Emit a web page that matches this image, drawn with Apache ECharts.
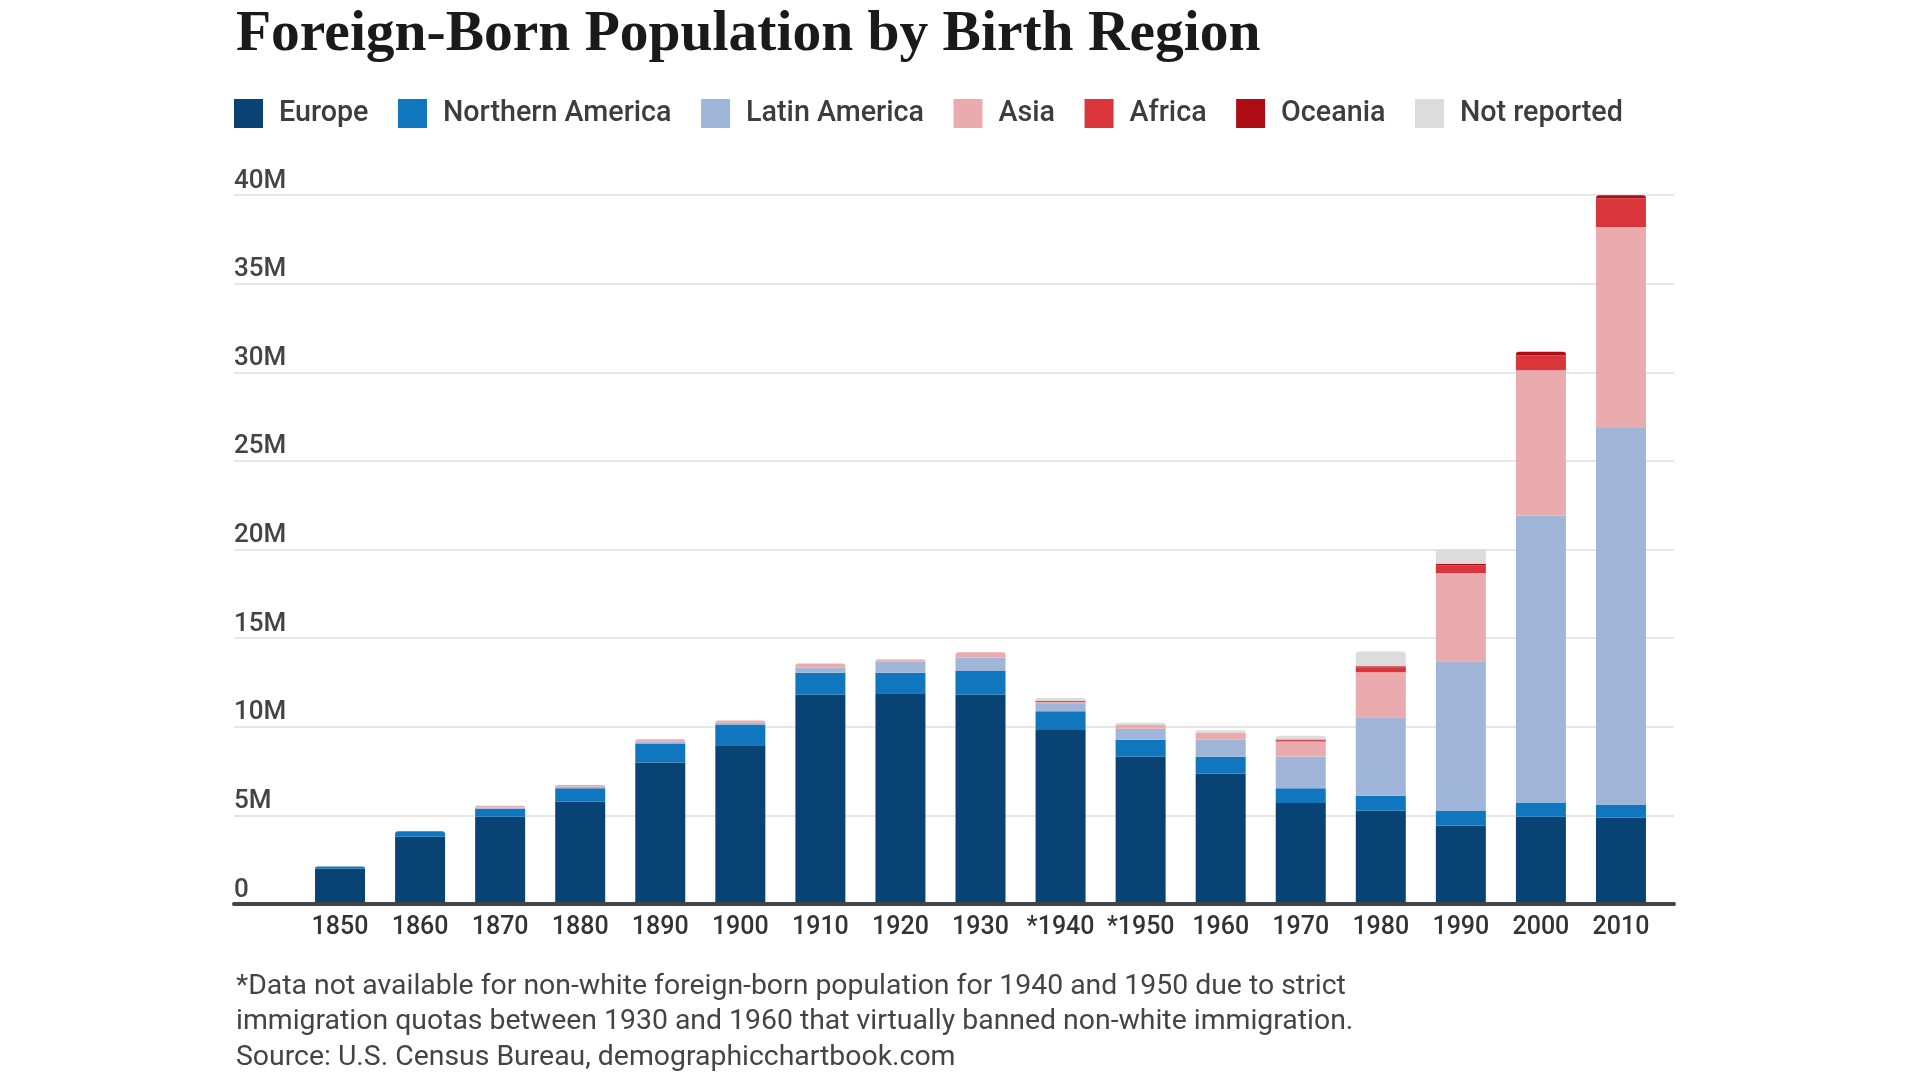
<!DOCTYPE html>
<html>
<head>
<meta charset="utf-8">
<title>Foreign-Born Population by Birth Region</title>
<script src="https://cdn.jsdelivr.net/npm/echarts@6/dist/echarts.min.js"></script>
<style>
  html, body { margin: 0; padding: 0; background: #fff; }
  #chart { width: 1920px; height: 1080px; }
</style>
</head>
<body>
<div id="chart"></div>
<script>
// values in millions
const categories = ['1850', '1860', '1870', '1880', '1890', '1900', '1910', '1920', '1930', '*1940', '*1950', '1960', '1970', '1980', '1990', '2000', '2010'];
const europe       = [2.00, 3.79, 4.92, 5.77, 7.98, 8.95, 11.80, 11.89, 11.80, 9.81, 8.31, 7.35, 5.70, 5.26, 4.43, 4.92, 4.87];
const northAmerica = [0.12, 0.31, 0.46, 0.76, 1.07, 1.17, 1.24, 1.15, 1.35, 1.06, 0.96, 0.96, 0.83, 0.85, 0.82, 0.80, 0.71];
const latinAmerica = [0, 0, 0.07, 0.09, 0.11, 0.10, 0.30, 0.64, 0.76, 0.41, 0.62, 0.96, 1.79, 4.42, 8.45, 16.18, 21.28];
const asia         = [0, 0, 0.10, 0.10, 0.13, 0.13, 0.23, 0.11, 0.30, 0.11, 0.23, 0.40, 0.85, 2.55, 4.98, 8.21, 11.34];
const africa       = [0, 0, 0, 0, 0, 0, 0, 0, 0, 0.04, 0, 0, 0.07, 0.28, 0.43, 0.85, 1.61];
const oceania      = [0, 0, 0, 0, 0, 0, 0, 0, 0, 0.04, 0, 0, 0.04, 0.06, 0.08, 0.19, 0.17];
const notReported  = [0, 0, 0, 0, 0, 0, 0, 0, 0, 0.15, 0.10, 0.13, 0.21, 0.83, 0.83, 0, 0];
const yTicks = [0, 5, 10, 15, 20, 25, 30, 35, 40];

const regions = [
  { name: 'Europe', data: europe, color: '#094374' },
  { name: 'Northern America', data: northAmerica, color: '#1076bd' },
  { name: 'Latin America', data: latinAmerica, color: '#9fb6d8' },
  { name: 'Asia', data: asia, color: '#eaabae' },
  { name: 'Africa', data: africa, color: '#d8363b' },
  { name: 'Oceania', data: oceania, color: '#ae0d16' },
  { name: 'Not reported', data: notReported, color: '#dcdcdc' }
];

// the top segment of each column gets slightly rounded corners
const topIndex = categories.map((c, i) => {
  let top = 0;
  regions.forEach((r, k) => { if (r.data[i] > 0) top = k; });
  return top;
});

const series = regions.map((r, k) => ({
  name: r.name,
  type: 'bar',
  stack: 'total',
  xAxisIndex: 1,
  yAxisIndex: 1,
  barWidth: 50,
  itemStyle: { color: r.color },
  emphasis: { disabled: true },
  data: r.data.map((v, i) => topIndex[i] === k
    ? { value: v, itemStyle: { borderRadius: [3, 3, 0, 0] } }
    : v)
}));

const chart = echarts.init(document.getElementById('chart'), null, { renderer: 'canvas' });

chart.setOption({
  animation: false,
  backgroundColor: '#fff',
  title: {
    text: 'Foreign-Born Population by Birth Region',
    left: 236,
    top: 6,
    padding: 0,
    textStyle: {
      fontFamily: 'Liberation Serif',
      fontWeight: 'bold',
      fontSize: 57.5,
      color: '#1a1a1a'
    }
  },
  legend: {
    data: regions.map(r => r.name),
    left: 234,
    top: 99,
    padding: 0,
    icon: 'rect',
    itemWidth: 29,
    itemHeight: 29,
    itemGap: 29.5,
    selectedMode: false,
    textStyle: {
      fontFamily: 'Roboto',
      fontWeight: 500,
      fontSize: 28.7,
      color: '#3d3d3d',
      padding: [0, 0, 0, 11]
    }
  },
  grid: [
    { left: 234, right: 246, top: 195, bottom: 176 },
    { left: 300, right: 259, top: 195, bottom: 176 }
  ],
  xAxis: [
    {
      gridIndex: 0,
      type: 'value',
      min: 0,
      max: 1,
      z: 5,
      axisLine: { show: true, lineStyle: { color: '#444', width: 4 } },
      axisTick: { show: false },
      axisLabel: { show: false },
      splitLine: { show: false }
    },
    {
      gridIndex: 1,
      type: 'category',
      data: categories,
      axisLine: { show: false },
      axisTick: { show: false },
      axisLabel: {
        interval: 0,
        margin: 11,
        fontFamily: 'Roboto',
        fontWeight: 500,
        fontSize: 25,
        color: '#333'
      }
    }
  ],
  yAxis: [
    {
      gridIndex: 0,
      type: 'value',
      min: yTicks[0],
      max: yTicks[yTicks.length - 1],
      interval: 5,
      axisLine: { show: false },
      axisTick: { show: false },
      splitLine: { lineStyle: { color: '#e6e6e6', width: 2 } },
      axisLabel: {
        inside: true,
        margin: 0,
        align: 'left',
        verticalAlign: 'bottom',
        padding: [0, 0, 1, 0],
        fontFamily: 'Roboto',
        fontWeight: 500,
        fontSize: 26,
        color: '#444',
        formatter: v => (v === 0 ? '0' : v + 'M')
      }
    },
    {
      gridIndex: 1,
      type: 'value',
      min: yTicks[0],
      max: yTicks[yTicks.length - 1],
      show: false
    }
  ],
  graphic: [
    {
      type: 'text',
      left: 236,
      top: 969,
      style: {
        text: '*Data not available for non-white foreign-born population for 1940 and 1950 due to strict\n' +
              'immigration quotas between 1930 and 1960 that virtually banned non-white immigration.\n' +
              'Source: U.S. Census Bureau, demographicchartbook.com',
        font: '28.4px Roboto',
        lineHeight: 35.5,
        fill: '#444'
      }
    }
  ],
  series: series
});
</script>
</body>
</html>
